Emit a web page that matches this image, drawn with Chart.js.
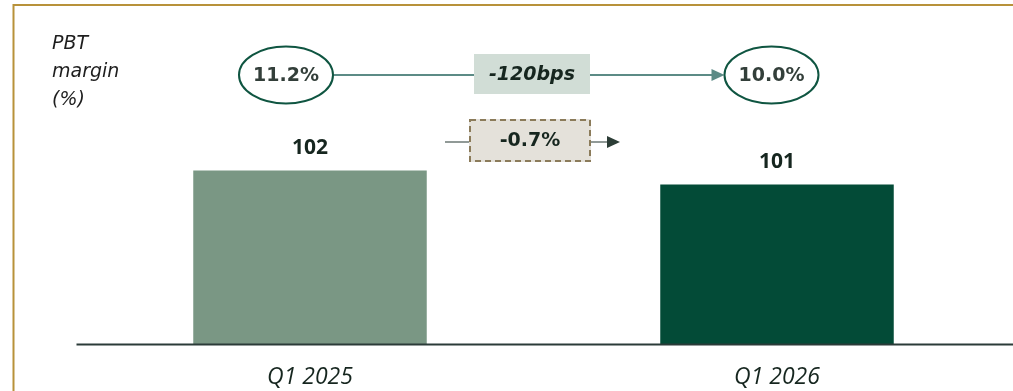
<!DOCTYPE html>
<html>
<head>
<meta charset="utf-8">
<title>PBT</title>
<script src="https://cdn.jsdelivr.net/npm/chart.js@4.4.1/dist/chart.umd.min.js"></script>
<style>
  html, body { margin: 0; padding: 0; background: #ffffff; }
  #wrap { width: 1013px; height: 391px; position: relative; }
</style>
</head>
<body>
<div id="wrap"><canvas id="pbtChart"></canvas></div>
<script>
// PBT by quarter, with margin callouts
const quarters = ['Q1 2025', 'Q1 2026'];
const pbtValues = [102, 101];
const marginPct = ['11.2%', '10.0%'];
const marginChange = '-120bps';
const pbtGrowth = '-0.7%';

const barColors = ['#7a9784', '#034b37'];
const textDark = '#16261f';

// Frame, axis line, margin ellipses, arrows and value labels
const calloutPlugin = {
  id: 'callouts',
  afterDatasetsDraw(chart) {
    const ctx = chart.ctx;
    const area = chart.chartArea;
    const xs = chart.scales.x;
    const meta = chart.getDatasetMeta(0);
    ctx.save();

    // gold frame (top + left)
    ctx.strokeStyle = '#b8923a';
    ctx.lineWidth = 2;
    ctx.beginPath();
    ctx.moveTo(13.5, 391);
    ctx.lineTo(13.5, 5);
    ctx.lineTo(chart.width, 5);
    ctx.stroke();

    // baseline
    ctx.strokeStyle = '#2b3b38';
    ctx.lineWidth = 2;
    ctx.beginPath();
    ctx.moveTo(area.left, area.bottom + 0.5);
    ctx.lineTo(chart.width, area.bottom + 0.5);
    ctx.stroke();

    // value labels above bars
    ctx.fillStyle = textDark;
    ctx.font = 'bold 21px "Open Sans"';
    ctx.textAlign = 'center';
    ctx.textBaseline = 'middle';
    meta.data.forEach((bar, i) => {
      ctx.fillText(String(pbtValues[i]), bar.x, bar.y - 23);
    });

    // side caption
    ctx.font = 'italic 19px "DejaVu Sans"';
    ctx.textAlign = 'left';
    ctx.fillStyle = '#1e1e1e';
    ['PBT', 'margin', '(%)'].forEach((t, i) => ctx.fillText(t, 52, 44 + i * 28));

    // margin ellipses
    const cy = 75;
    const e1 = xs.getPixelForValue(0) - 24;
    const e2 = xs.getPixelForValue(1) - 5.5;
    const rx = 47, ry = 28.5;

    // connector line with arrow
    ctx.strokeStyle = '#5c8b86';
    ctx.fillStyle = '#5c8b86';
    ctx.lineWidth = 2;
    ctx.beginPath();
    ctx.moveTo(e1 + rx, cy);
    ctx.lineTo(e2 - rx - 12, cy);
    ctx.stroke();
    ctx.beginPath();
    ctx.moveTo(e2 - rx, cy);
    ctx.lineTo(e2 - rx - 13, cy - 6);
    ctx.lineTo(e2 - rx - 13, cy + 6);
    ctx.closePath();
    ctx.fill();

    [e1, e2].forEach((cx, i) => {
      ctx.beginPath();
      ctx.ellipse(cx, cy, rx, ry, 0, 0, Math.PI * 2);
      ctx.fillStyle = '#ffffff';
      ctx.fill();
      ctx.strokeStyle = '#0f5541';
      ctx.lineWidth = 2;
      ctx.stroke();
      ctx.fillStyle = '#333f3a';
      ctx.font = 'bold 19px "DejaVu Sans"';
      ctx.textAlign = 'center';
      ctx.fillText(marginPct[i], cx, cy + 1);
    });

    // bps change box
    ctx.fillStyle = '#d1ddd6';
    ctx.fillRect(474, 54, 116, 40);
    ctx.fillStyle = textDark;
    ctx.font = 'italic bold 19px "DejaVu Sans"';
    ctx.fillText(marginChange, 532, 75);

    // growth box with dashed border and arrow
    ctx.strokeStyle = '#6e7a75';
    ctx.lineWidth = 1.5;
    ctx.beginPath();
    ctx.moveTo(445, 142);
    ctx.lineTo(469, 142);
    ctx.moveTo(591, 142);
    ctx.lineTo(608, 142);
    ctx.stroke();
    ctx.fillStyle = '#2c3d36';
    ctx.beginPath();
    ctx.moveTo(620, 142);
    ctx.lineTo(607, 136);
    ctx.lineTo(607, 148);
    ctx.closePath();
    ctx.fill();

    ctx.fillStyle = '#e4e1da';
    ctx.fillRect(469, 119, 122, 43);
    ctx.strokeStyle = '#8b7b5a';
    ctx.lineWidth = 2;
    ctx.setLineDash([6, 4]);
    ctx.strokeRect(470, 120, 120, 41);
    ctx.setLineDash([]);
    ctx.fillStyle = textDark;
    ctx.font = 'bold 19px "DejaVu Sans"';
    ctx.fillText(pbtGrowth, 530, 141);

    ctx.restore();
  }
};

new Chart(document.getElementById('pbtChart'), {
  type: 'bar',
  data: {
    labels: quarters,
    datasets: [{
      data: pbtValues,
      backgroundColor: barColors,
      borderWidth: 0,
      barPercentage: 0.5,
      categoryPercentage: 1
    }]
  },
  options: {
    responsive: true,
    maintainAspectRatio: false,
    animation: false,
    devicePixelRatio: 1,
    layout: { padding: { left: 76.5, right: 2.5, top: 100.4, bottom: 0 } },
    plugins: {
      legend: { display: false },
      tooltip: { enabled: false }
    },
    scales: {
      x: {
        grid: { display: false, drawTicks: false },
        border: { display: false },
        ticks: {
          color: textDark,
          padding: 20,
          font: { family: '"Open Sans"', style: 'italic', size: 23, lineHeight: 1.2 }
        },
        afterFit(scale) { scale.height = 47; }
      },
      y: {
        display: false,
        min: 89.64,
        max: 107
      }
    }
  },
  plugins: [calloutPlugin]
});
</script>
</body>
</html>
